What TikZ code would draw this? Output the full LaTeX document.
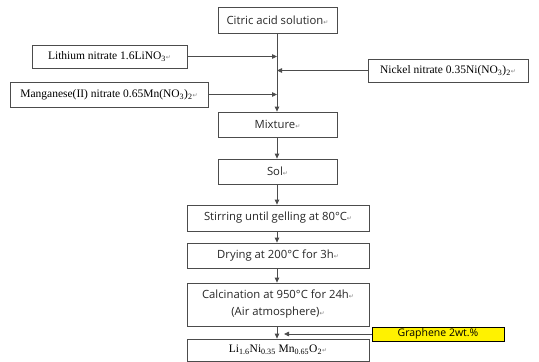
\documentclass[tikz,border=0pt]{standalone}
\usepackage{fontspec}
\setmainfont{Liberation Serif}
\newfontfamily\sansf{Open Sans}
\newfontfamily\symf{DejaVu Sans}
\usetikzlibrary{arrows.meta}
\newcommand{\retm}{{\symf\fontsize{6}{6}\selectfont\textcolor{gray}{↵}}}
\begin{document}
\begin{tikzpicture}[x=1pt,y=-1pt,
  sbox/.style={draw=black!70, line width=0.8pt, inner sep=0pt, align=center,
    font=\sansf\fontsize{11.3}{17}\selectfont, text=black!85},
  rbox/.style={draw=black!70, line width=0.8pt, inner sep=0pt,
    font=\fontsize{11.5}{13}\selectfont},
  conn/.style={draw=black!70, line width=0.8pt},
  arr/.style={conn, -{Triangle[length=5pt,width=4.5pt]}}]
\useasboundingbox (0,0) rectangle (539,362);
\node[sbox, minimum width=119pt, minimum height=26pt] (cit) at (277.5,20) {Citric acid solution\retm};
\node[sbox, minimum width=119pt, minimum height=25pt] (mix) at (277.5,124.5) {Mixture\retm};
\node[sbox, minimum width=119pt, minimum height=25pt] (sol) at (277.5,171.5) {Sol\retm};
\node[sbox, minimum width=182pt, minimum height=26pt] (stir) at (278,218) {Stirring until gelling at 80°C\retm};
\node[sbox, minimum width=182pt, minimum height=25pt] (dry) at (278,255.5) {Drying at 200°C for 3h\retm};
\node[sbox, minimum width=182pt, minimum height=43pt] (calc) at (278,304.5) {Calcination at 950°C for 24h\retm\\(Air atmosphere)\retm};
\node[rbox, minimum width=182pt, minimum height=22pt] (prod) at (278,350) {Li\textsubscript{1.6}Ni\textsubscript{0.35} Mn\textsubscript{0.65}O\textsubscript{2}\retm};
\node[rbox, minimum width=155pt, minimum height=23pt] (lith) at (109.5,56.5) {Lithium nitrate 1.6LiNO\textsubscript{3}\retm};
\node[rbox, minimum width=198pt, minimum height=25pt] (mang) at (109,94.5) {Manganese(II) nitrate 0.65Mn(NO\textsubscript{3})\textsubscript{2}\retm};
\node[rbox, minimum width=160pt, minimum height=23pt] (nick) at (448,70.5) {Nickel nitrate 0.35Ni(NO\textsubscript{3})\textsubscript{2}\retm};
\node[draw=black, fill=yellow, line width=0.8pt, inner sep=0pt, minimum width=132pt, minimum height=14pt,
  font=\sansf\fontsize{10.5}{11}\selectfont] (gra) at (438,334) {Graphene 2wt.\%};
\coordinate (jl) at (277,56.5);
\coordinate (jn) at (277,70.5);
\coordinate (jm) at (277,94.5);
\coordinate (jg) at (284,334);
\draw[arr] (cit.south -| jl) -- (mix.north -| jl);
\draw[arr] (lith.east) -- (jl);
\draw[arr] (nick.west) -- (jn);
\draw[arr] (mang.east) -- (jm);
\draw[arr] (mix.south -| jl) -- (sol.north -| jl);
\draw[arr] (sol.south -| jl) -- (stir.north -| jl);
\draw[arr] (stir.south -| jl) -- (dry.north -| jl);
\draw[arr] (dry.south -| jl) -- (calc.north -| jl);
\draw[arr] (calc.south -| jl) -- (prod.north -| jl);
\draw[arr] (gra.west) -- (jg);
\end{tikzpicture}
\end{document}
